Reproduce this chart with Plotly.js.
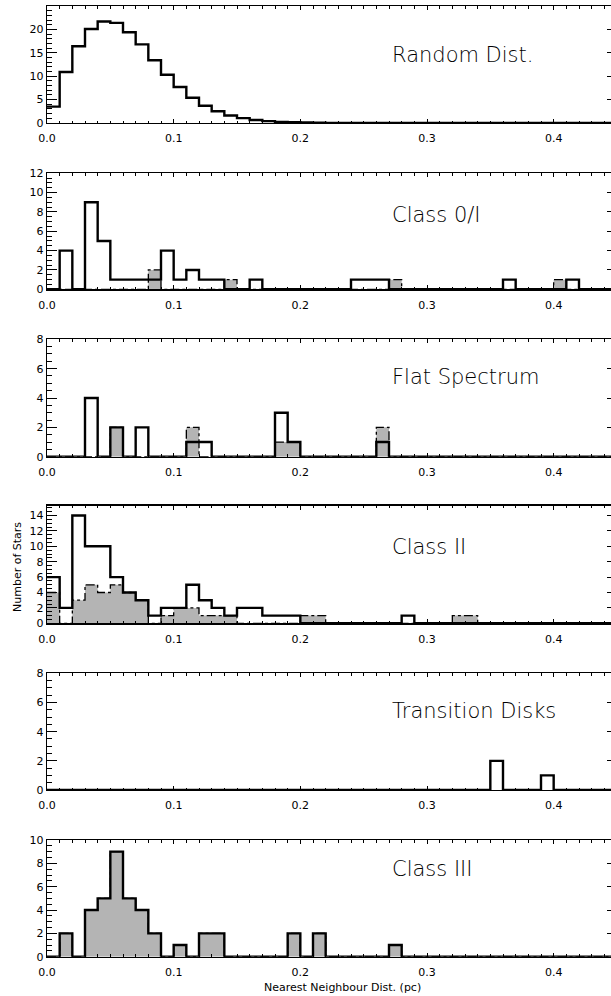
<!DOCTYPE html>
<html>
<head>
<meta charset="utf-8">
<script src="https://cdn.plot.ly/plotly-3.0.1.min.js"></script>
<style>
html,body{margin:0;padding:0;overflow:hidden;background:#fff;}
#chart{width:620px;height:996px;}
</style>
</head>
<body>
<div id="chart"></div>
<script>
// Bin edges (pc)
const binEdges = [0.00,0.01,0.02,0.03,0.04,0.05,0.06,0.07,0.08,0.09,
  0.10,0.11,0.12,0.13,0.14,0.15,0.16,0.17,0.18,0.19,
  0.20,0.21,0.22,0.23,0.24,0.25,0.26,0.27,0.28,0.29,
  0.30,0.31,0.32,0.33,0.34,0.35,0.36,0.37,0.38,0.39,
  0.40,0.41,0.42,0.43,0.44,0.45];

// Counts per bin (45 bins)
const randomDist = [3.5,10.9,16.4,20.1,21.7,21.4,19.4,16.8,13.4,10.3,
  7.7,5.4,3.7,2.5,1.6,1.05,0.65,0.4,0.25,0.15,
  0.1,0.05,0.02,0,0,0,0,0,0,0, 0,0,0,0,0,0,0,0,0,0, 0,0,0,0,0];

const class01Solid = [0,4,0,9,5,1,1,1,1,4, 1,2,1,1,0,0,1,0,0,0, 0,0,0,0,1,1,1,0,0,0,
  0,0,0,0,0,0,1,0,0,0, 0,1,0,0,0];
const class01Gray = [0,0,0,0,0,0,0,0,2,0, 0,0,0,0,1,0,0,0,0,0, 0,0,0,0,0,0,0,1,0,0,
  0,0,0,0,0,0,0,0,0,0, 1,0,0,0,0];

const flatSolid = [0,0,0,4,0,2,0,2,0,0, 0,1,1,0,0,0,0,0,3,1, 0,0,0,0,0,0,1,0,0,0,
  0,0,0,0,0,0,0,0,0,0, 0,0,0,0,0];
const flatGray = [0,0,0,0,0,2,0,0,0,0, 0,2,0,0,0,0,0,0,1,1, 0,0,0,0,0,0,2,0,0,0,
  0,0,0,0,0,0,0,0,0,0, 0,0,0,0,0];

const class2Solid = [6,2,14,10,10,6,4,3,1,2, 2,5,3,2,1,2,2,1,1,1, 0,0,0,0,0,0,0,0,1,0,
  0,0,0,0,0,0,0,0,0,0, 0,0,0,0,0];
const class2Gray = [4,0,3,5,4,5,4,3,0,1, 2,2,1,1,1,0,0,0,0,0, 1,1,0,0,0,0,0,0,0,0,
  0,0,1,1,0,0,0,0,0,0, 0,0,0,0,0];

const transSolid = [0,0,0,0,0,0,0,0,0,0, 0,0,0,0,0,0,0,0,0,0, 0,0,0,0,0,0,0,0,0,0,
  0,0,0,0,0,2,0,0,0,1, 0,0,0,0,0];

const class3Solid = [0,2,0,4,5,9,5,4,2,0, 1,0,2,2,0,0,0,0,0,2, 0,2,0,0,0,0,0,1,0,0,
  0,0,0,0,0,0,0,0,0,0, 0,0,0,0,0];
const class3Gray = class3Solid;

const panelLabels = ["Random Dist.","Class 0/I","Flat Spectrum","Class II","Transition Disks","Class III"];
const xTickVals = [0.0,0.1,0.2,0.3,0.4];
const xTickText = ["0.0","0.1","0.2","0.3","0.4"];
const xTitle = "Nearest Neighbour Dist. (pc)";
const yTitle = "Number of Stars";

const panels = [
  {solid: randomDist, gray: null, yMax: 25, dtick: 5, minor: 1},
  {solid: class01Solid, gray: class01Gray, yMax: 12, dtick: 2, minor: 0.5},
  {solid: flatSolid, gray: flatGray, yMax: 8, dtick: 2, minor: 0.5},
  {solid: class2Solid, gray: class2Gray, yMax: 15.3, dtick: 2, minor: 0.5},
  {solid: transSolid, gray: null, yMax: 8, dtick: 2, minor: 0.5},
  {solid: class3Solid, gray: class3Gray, yMax: 10, dtick: 2, minor: 0.5}
];

// pixel layout of panels (top, bottom) in a 996px tall figure
const H = 996;
const panelPix = [[6,123],[173.3,289.3],[339.3,456.7],[505.5,623.3],[673.3,790],[840,956.7]];
const labelPixY = [54.7,214.7,376.7,546.7,710.7,869.3];

function stepY(counts){ return counts.concat([counts[counts.length-1]]); }

const traces = [];
const layout = {
  width: 620, height: 996,
  margin: {l: 47, r: 3, t: 0, b: 0},
  paper_bgcolor: '#fff', plot_bgcolor: '#fff',
  showlegend: false,
  font: {family: 'DejaVu Sans, Arial, sans-serif', size: 11, color: '#000'},
  annotations: []
};

panels.forEach((p, i) => {
  const n = i + 1;
  const xa = 'x' + (n === 1 ? '' : n);
  const ya = 'y' + (n === 1 ? '' : n);
  if (p.gray) {
    traces.push({
      type: 'scatter', mode: 'lines', xaxis: xa, yaxis: ya,
      x: binEdges, y: stepY(p.gray),
      line: {shape: 'hv', color: '#000', width: 1.3, dash: 'dashdot'},
      fill: 'tozeroy', fillcolor: '#b4b4b4', hoverinfo: 'skip'
    });
  }
  traces.push({
    type: 'scatter', mode: 'lines', xaxis: xa, yaxis: ya,
    x: binEdges, y: stepY(p.solid),
    line: {shape: 'hv', color: '#000', width: 2.4}, hoverinfo: 'skip'
  });
  const [top, bot] = panelPix[i];
  layout['xaxis' + (n === 1 ? '' : n)] = {
    anchor: ya, domain: [0, 1], range: [0, 0.45],
    showgrid: false, zeroline: false, showline: true, mirror: 'ticks',
    linecolor: '#000', linewidth: 1.2,
    ticks: 'inside', ticklen: 4, tickwidth: 1, tickcolor: '#000',
    tickvals: xTickVals, ticktext: xTickText, ticklabelstandoff: 5,
    tickfont: {family: 'DejaVu Sans, Arial, sans-serif', size: 11, color: '#000'},
    minor: {dtick: 0.01, ticks: 'inside', ticklen: 2.5, tickcolor: '#000', tickwidth: 1, showgrid: false}
  };
  layout['yaxis' + (n === 1 ? '' : n)] = {
    anchor: xa, domain: [1 - bot / H, 1 - top / H], range: [0, p.yMax],
    showgrid: false, zeroline: false, showline: true, mirror: 'ticks',
    linecolor: '#000', linewidth: 1.2,
    ticks: 'inside', ticklen: 10, tickwidth: 1, tickcolor: '#000',
    dtick: p.dtick, tick0: 0,
    tickfont: {family: 'DejaVu Sans, Arial, sans-serif', size: 11, color: '#000'},
    minor: {dtick: p.minor, ticks: 'inside', ticklen: 5, tickcolor: '#000', tickwidth: 1, showgrid: false}
  };
  layout.annotations.push({
    xref: 'paper', yref: 'paper', x: (390 - 47) / 570, y: 1 - labelPixY[i] / H,
    xanchor: 'left', yanchor: 'middle', showarrow: false,
    text: panelLabels[i],
    font: {family: 'DejaVu Sans', weight: 200, size: 21, color: '#000'}
  });
});

layout.annotations.push({
  xref: 'paper', yref: 'paper', x: (343 - 47) / 570, y: 1 - 987 / H,
  xanchor: 'center', yanchor: 'middle', showarrow: false, text: xTitle,
  font: {family: 'DejaVu Sans, Arial, sans-serif', size: 11, color: '#000'}
});
layout.annotations.push({
  xref: 'paper', yref: 'paper', x: (17 - 47) / 570, y: 1 - 567 / H,
  xanchor: 'center', yanchor: 'middle', showarrow: false, textangle: -90, text: yTitle,
  font: {family: 'DejaVu Sans, Arial, sans-serif', size: 11, color: '#000'}
});

Plotly.newPlot('chart', traces, layout, {displayModeBar: false, staticPlot: true});
</script>
</body>
</html>
